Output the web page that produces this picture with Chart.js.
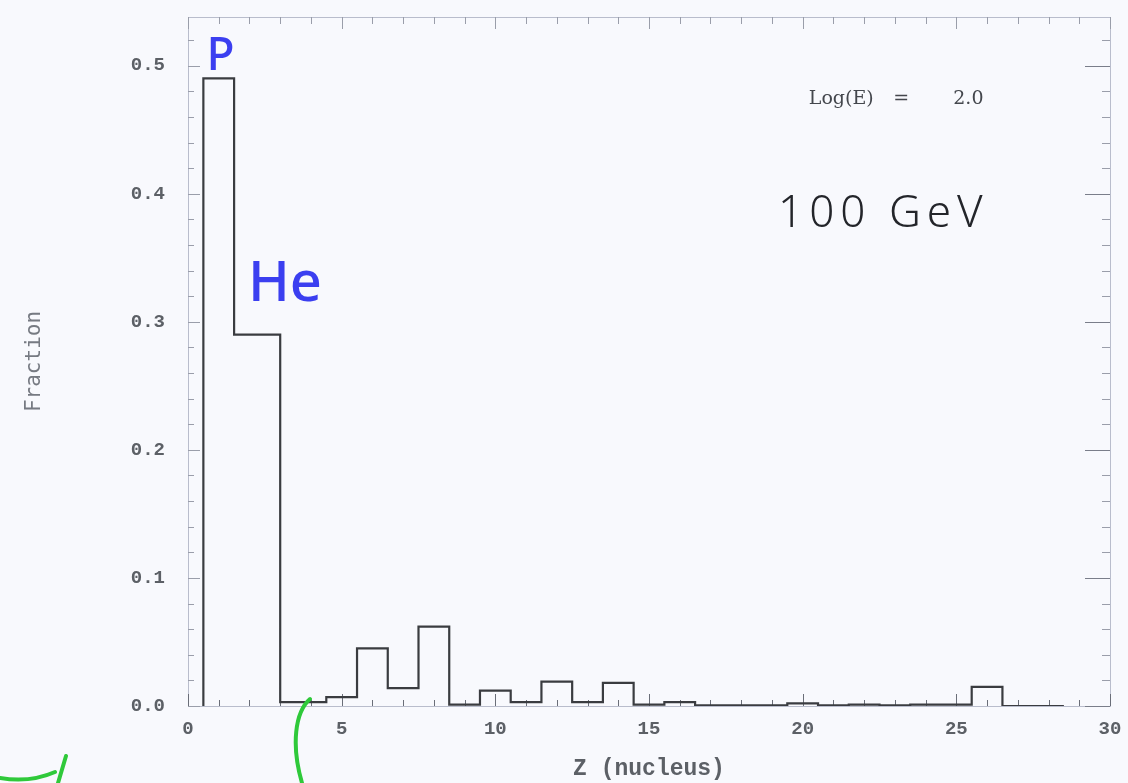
<!DOCTYPE html>
<html>
<head>
<meta charset="utf-8">
<script src="https://cdn.jsdelivr.net/npm/chart.js@4"></script>
<style>
  html, body { margin: 0; padding: 0; background: #f8f9fd; }
  #wrap { width: 1128px; height: 783px; }
</style>
</head>
<body>
<div id="wrap"><canvas id="zChart"></canvas></div>
<script>
  // bin edges along Z and the fraction of nuclei falling in each bin
  var binEdges = [0.5, 1.5, 3.0, 4.5, 5.5, 6.5, 7.5, 8.5, 9.5, 10.5, 11.5, 12.5, 13.5,
                  14.5, 15.5, 16.5, 17.5, 18.5, 19.5, 20.5, 21.5, 22.5, 23.5, 24.5, 25.5, 26.5, 28.5];
  var fractions = [0.49, 0.29, 0.003, 0.007, 0.045, 0.014, 0.062, 0.001, 0.012, 0.003, 0.019, 0.003,
                   0.018, 0.001, 0.003, 0.0005, 0.0005, 0.0005, 0.002, 0.0005, 0.001, 0.0005, 0.001,
                   0.001, 0.015, 0.0];
  var xTicks = [0, 5, 10, 15, 20, 25, 30];
  var yTicks = [0.0, 0.1, 0.2, 0.3, 0.4, 0.5];
  var energyParts = ['Log(E)', '=', '2.0'];

  // step outline: start on the baseline, hold each value until the next edge
  var outline = [{ x: binEdges[0], y: 0 }];
  for (var i = 0; i < fractions.length; i++) {
    outline.push({ x: binEdges[i], y: fractions[i] });
  }
  outline.push({ x: binEdges[binEdges.length - 1], y: 0 });

  var tickFont = { family: 'Liberation Mono', size: 19, weight: 'bold' };
  var inkGrey = '#5c6066';

  // frame plus inward tick marks on all four sides
  var frameTicks = {
    id: 'frameTicks',
    beforeDatasetsDraw: function (chart) {
      var c = chart.ctx, a = chart.chartArea;
      var xs = chart.scales.x, ys = chart.scales.y;
      c.save();
      c.strokeStyle = '#b9bdcc';
      c.lineWidth = 1;
      c.strokeRect(a.left + 0.5, a.top + 0.5, a.right - a.left, a.bottom - a.top);

      for (var z = 0; z <= 30; z++) {
        var px = Math.round(xs.getPixelForValue(z)) + 0.5;
        var major = z % 5 === 0;
        c.strokeStyle = '#6a6e78';
        c.beginPath();
        c.moveTo(px, a.bottom); c.lineTo(px, a.bottom - (major ? 12 : 6));
        c.stroke();
        c.strokeStyle = '#9a9eaa';
        c.beginPath();
        c.moveTo(px, a.top); c.lineTo(px, a.top + (major ? 12 : 7));
        c.stroke();
      }
      for (var k = 0; k <= 26; k++) {
        var py = Math.round(ys.getPixelForValue(k * 0.02)) + 0.5;
        var big = k % 5 === 0;
        c.strokeStyle = '#9a9eaa';
        c.beginPath();
        c.moveTo(a.left, py); c.lineTo(a.left + (big ? 12 : 6), py);
        c.stroke();
        c.strokeStyle = big ? '#7a7e8a' : '#9a9eaa';
        c.beginPath();
        c.moveTo(a.right, py); c.lineTo(a.right - (big ? 25 : 8), py);
        c.stroke();
      }
      c.restore();
    }
  };

  // energy label and the pen notes written over the plot
  var notes = {
    id: 'notes',
    afterDraw: function (chart) {
      var c = chart.ctx;
      var xs = chart.scales.x, ys = chart.scales.y;
      var base = ys.getPixelForValue(0.47);
      c.save();
      c.textBaseline = 'alphabetic';
      c.fillStyle = '#44474d';
      c.font = '19px "DejaVu Serif"';
      c.fillText(energyParts[0], xs.getPixelForValue(20.2), base);
      c.fillText(energyParts[1], xs.getPixelForValue(22.95), base);
      c.fillText(energyParts[2], xs.getPixelForValue(24.9), base);

      c.fillStyle = '#23252a';
      c.font = '300 44px "Noto Sans"';
      c.letterSpacing = '6px';
      c.fillText('100 GeV', xs.getPixelForValue(19.2), ys.getPixelForValue(0.374));
      c.letterSpacing = '0px';

      c.fillStyle = '#3b3ff0';
      c.font = '500 46px "Noto Sans"';
      c.fillText('P', xs.getPixelForValue(0.6), ys.getPixelForValue(0.497));
      c.font = '500 56px "Noto Sans"';
      c.fillText('He', xs.getPixelForValue(1.95), ys.getPixelForValue(0.316));

      // green pen strokes along the bottom edge
      c.strokeStyle = '#2fc93a';
      c.lineWidth = 4;
      c.lineCap = 'round';
      c.beginPath();
      c.moveTo(310, 699);
      c.bezierCurveTo(295, 712, 291, 745, 302, 783);
      c.stroke();
      c.beginPath();
      c.moveTo(0, 778);
      c.quadraticCurveTo(30, 783, 55, 772);
      c.moveTo(66, 756);
      c.lineTo(58, 783);
      c.stroke();
      c.restore();
    }
  };

  var ctx = document.getElementById('zChart').getContext('2d');
  var zChart = new Chart(ctx, {
    type: 'line',
    data: {
      datasets: [{
        data: outline,
        stepped: 'before',
        borderColor: '#3a3c40',
        borderWidth: 2.2,
        pointRadius: 0,
        fill: false
      }]
    },
    options: {
      responsive: true,
      maintainAspectRatio: false,
      animation: false,
      layout: { padding: { top: 17, right: 18, left: 0, bottom: 0 } },
      plugins: { legend: { display: false }, tooltip: { enabled: false } },
      scales: {
        x: {
          type: 'linear',
          min: 0,
          max: 30,
          afterBuildTicks: function (s) { s.ticks = xTicks.map(function (v) { return { value: v }; }); },
          afterFit: function (s) { s.height = 77; s.paddingLeft = 0; s.paddingRight = 0; },
          grid: { display: false },
          border: { display: false },
          ticks: { font: tickFont, color: inkGrey, padding: 4, maxRotation: 0 },
          title: {
            display: true,
            text: 'Z (nucleus)',
            font: { family: 'Liberation Mono', size: 23, weight: 'bold' },
            color: inkGrey,
            padding: { top: 0, bottom: 0 }
          }
        },
        y: {
          min: 0,
          max: 0.538,
          afterBuildTicks: function (s) { s.ticks = yTicks.map(function (v) { return { value: v }; }); },
          afterFit: function (s) { s.width = 188; s.paddingTop = 0; s.paddingBottom = 0; },
          grid: { display: false },
          border: { display: false },
          ticks: {
            font: tickFont,
            color: inkGrey,
            padding: 15,
            callback: function (v) { return Number(v).toFixed(1); }
          },
          title: {
            display: true,
            text: 'Fraction',
            font: { family: 'DejaVu Sans Mono', size: 21 },
            color: '#767a82',
            padding: { top: 22, bottom: 0 }
          }
        }
      }
    },
    plugins: [frameTicks, notes]
  });
</script>
</body>
</html>
